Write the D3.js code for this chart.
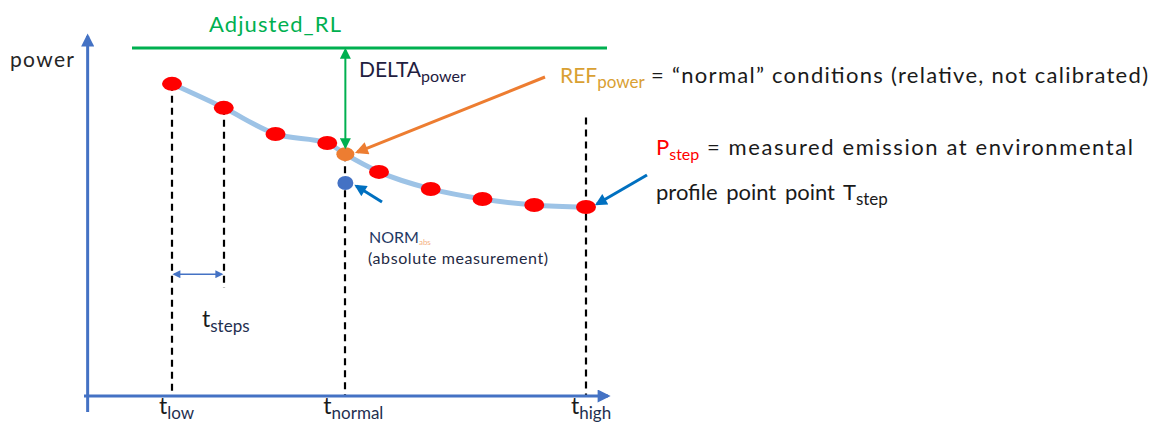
<!DOCTYPE html>
<html>
<head>
<meta charset="utf-8">
<script src="https://cdn.jsdelivr.net/npm/d3@7"></script>
<style>
body { margin: 0; background: #fff; }
svg text { font-family: Lato, "Open Sans", sans-serif; }
</style>
</head>
<body>
<div id="chart"></div>
<script>
// measured steps between t_low and t_high (power, arbitrary units)
var stepIndex = [0, 1, 2, 3, 4, 5, 6, 7, 8];
var stepPower = [8.97, 8.28, 7.53, 7.27, 6.44, 5.95, 5.66, 5.49, 5.43];
var tLow = 0, tNormal = 3.35, tHigh = 8;
var refPower = 6.95;
var normAbs = 6.12;
var adjustedRL = 10;
var tickValues = [tLow, tNormal, tHigh];
var tickNames = ["low", "normal", "high"];

var width = 1153, height = 425;

var svg = d3.select("#chart").append("svg")
    .attr("width", width)
    .attr("height", height);

var xScale = d3.scaleLinear()
    .domain([0, 8])
    .range([172, 586]);

var yScale = d3.scaleLinear()
    .domain([0, 10])
    .range([396, 48]);

var defs = svg.append("defs");
function arrowMarker(id, color, w, h){
    defs.append("marker")
        .attr("id", id)
        .attr("markerUnits", "userSpaceOnUse")
        .attr("viewBox", "0 0 10 10")
        .attr("refX", 8)
        .attr("refY", 5)
        .attr("markerWidth", w)
        .attr("markerHeight", h)
        .attr("orient", "auto-start-reverse")
        .append("path")
        .attr("d", "M0,0 L10,5 L0,10 z")
        .attr("fill", color);
}
arrowMarker("axisHead", "#4472C4", 16, 13);
arrowMarker("greenHead", "#00B050", 12, 11);
arrowMarker("orangeHead", "#ED7D31", 15, 13);
arrowMarker("blueHead", "#0070C0", 14, 12);
arrowMarker("smallHead", "#4472C4", 10, 8);

var axisX = xScale(-1.63);
var axisY = yScale(0);

// Adjusted_RL level
svg.append("line")
    .attr("x1", 132).attr("x2", 607)
    .attr("y1", yScale(adjustedRL)).attr("y2", yScale(adjustedRL))
    .attr("stroke", "#00B050")
    .attr("stroke-width", 3);

// dashed guides
var guides = [
    {t: tLow, top: stepPower[0], bottom: 0},
    {t: stepIndex[1], top: stepPower[1], bottom: 3.1},
    {t: tNormal, top: refPower, bottom: 0},
    {t: tHigh, top: 8.0, bottom: 0}
];
svg.selectAll(".guide")
    .data(guides)
    .enter().append("line")
    .attr("class", "guide")
    .attr("x1", function(d) { return Math.round(xScale(d.t)); })
    .attr("x2", function(d) { return Math.round(xScale(d.t)); })
    .attr("y1", function(d) { return yScale(d.top); })
    .attr("y2", function(d) { return yScale(d.bottom); })
    .attr("stroke", "#000")
    .attr("stroke-width", 2.2)
    .attr("stroke-dasharray", "7,5");

// curve through the steps and the reference point
var curveData = stepIndex.map(function(t, i) { return {t: t, p: stepPower[i]}; });
curveData.push({t: tNormal, p: refPower});
curveData.sort(function(a, b) { return a.t - b.t; });

var line = d3.line()
    .x(function(d) { return xScale(d.t); })
    .y(function(d) { return yScale(d.p); })
    .curve(d3.curveMonotoneX);

svg.append("path")
    .datum(curveData)
    .attr("d", line)
    .attr("fill", "none")
    .attr("stroke", "#9DC3E6")
    .attr("stroke-width", 5)
    .attr("stroke-linecap", "round");

svg.selectAll(".dot")
    .data(stepIndex)
    .enter().append("ellipse")
    .attr("class", "dot")
    .attr("cx", function(d) { return xScale(d); })
    .attr("cy", function(d, i) { return yScale(stepPower[i]); })
    .attr("rx", 10)
    .attr("ry", 7)
    .attr("fill", "#FF0000");

svg.append("ellipse")
    .attr("cx", xScale(tNormal)).attr("cy", yScale(refPower))
    .attr("rx", 9).attr("ry", 7)
    .attr("fill", "#ED7D31");

svg.append("ellipse")
    .attr("cx", xScale(tNormal)).attr("cy", yScale(normAbs))
    .attr("rx", 8).attr("ry", 7)
    .attr("fill", "#4472C4");

// DELTA double arrow
svg.append("line")
    .attr("x1", xScale(tNormal)).attr("x2", xScale(tNormal))
    .attr("y1", yScale(adjustedRL) + 2).attr("y2", yScale(refPower) - 7)
    .attr("stroke", "#00B050")
    .attr("stroke-width", 2)
    .attr("marker-start", "url(#greenHead)")
    .attr("marker-end", "url(#greenHead)");

// pointer arrows
svg.append("line")
    .attr("x1", 545).attr("y1", 77)
    .attr("x2", xScale(tNormal) + 12).attr("y2", yScale(refPower) - 2)
    .attr("stroke", "#ED7D31")
    .attr("stroke-width", 3)
    .attr("marker-end", "url(#orangeHead)");

svg.append("line")
    .attr("x1", 382).attr("y1", 202)
    .attr("x2", xScale(tNormal) + 11).attr("y2", yScale(normAbs) + 3)
    .attr("stroke", "#0070C0")
    .attr("stroke-width", 3)
    .attr("marker-end", "url(#blueHead)");

svg.append("line")
    .attr("x1", 647).attr("y1", 175)
    .attr("x2", xScale(tHigh) + 11).attr("y2", yScale(stepPower[8]) - 3)
    .attr("stroke", "#0070C0")
    .attr("stroke-width", 3)
    .attr("marker-end", "url(#blueHead)");

// t_steps span
svg.append("line")
    .attr("x1", xScale(stepIndex[0]) + 2).attr("x2", xScale(stepIndex[1]) - 2)
    .attr("y1", yScale(3.5)).attr("y2", yScale(3.5))
    .attr("stroke", "#4472C4")
    .attr("stroke-width", 1.5)
    .attr("marker-start", "url(#smallHead)")
    .attr("marker-end", "url(#smallHead)");

// axes
svg.append("line")
    .attr("x1", axisX).attr("x2", axisX)
    .attr("y1", 412).attr("y2", 36)
    .attr("stroke", "#4472C4")
    .attr("stroke-width", 3)
    .attr("marker-end", "url(#axisHead)");

svg.append("line")
    .attr("x1", 84).attr("x2", 608)
    .attr("y1", axisY).attr("y2", axisY)
    .attr("stroke", "#4472C4")
    .attr("stroke-width", 3)
    .attr("marker-end", "url(#axisHead)");

// text helpers
function subLabel(x, y, main, sub, size, subSize, drop, color, subColor){
    var t = svg.append("text")
        .attr("x", x).attr("y", y)
        .attr("font-size", size)
        .attr("fill", color);
    t.append("tspan").text(main);
    t.append("tspan")
        .attr("font-size", subSize)
        .attr("dy", drop)
        .attr("fill", subColor || color)
        .text(sub);
    return t;
}

var tickDx = [-13, -22, -15];
tickValues.forEach(function(v, i){
    subLabel(xScale(v) + tickDx[i], 414, "t", tickNames[i], 23, 17, 5, "#1a1a1a", "#1F3050");
});

subLabel(202, 327, "t", "steps", 23, 17, 5, "#1a1a1a", "#1F3050");

svg.append("text")
    .attr("x", 10).attr("y", 67)
    .attr("font-size", 21)
    .attr("fill", "#262626")
    .attr("textLength", 64)
    .text("power");

svg.append("text")
    .attr("x", 209).attr("y", 32)
    .attr("font-size", 22)
    .attr("fill", "#00B050")
    .attr("textLength", 132)
    .text("Adjusted_RL");

subLabel(359, 77, "DELTA", "power", 21, 16, 5, "#1F2040");

subLabel(560, 83, "REF", "power", 21, 17, 5, "#D9A032");
svg.append("text")
    .attr("x", 651).attr("y", 83)
    .attr("font-size", 22)
    .attr("fill", "#1a1a1a")
    .attr("textLength", 497)
    .text("= \u201Cnormal\u201D conditions (relative, not calibrated)");

subLabel(656, 155, "P", "step", 22, 16, 5, "#FF0000");
svg.append("text")
    .attr("x", 707).attr("y", 155)
    .attr("font-size", 22)
    .attr("fill", "#1a1a1a")
    .attr("textLength", 426)
    .text("= measured emission at environmental");

subLabel(656, 200, "profile point point T", "step", 22, 17, 5, "#1a1a1a")
    .attr("word-spacing", 3);

subLabel(369, 243, "NORM", "abs", 16, 8, 2, "#1F3864", "#F4B183");
svg.append("text")
    .attr("x", 368).attr("y", 264)
    .attr("font-size", 16)
    .attr("fill", "#1F2A44")
    .attr("textLength", 180)
    .text("(absolute measurement)");
</script>
</body>
</html>
